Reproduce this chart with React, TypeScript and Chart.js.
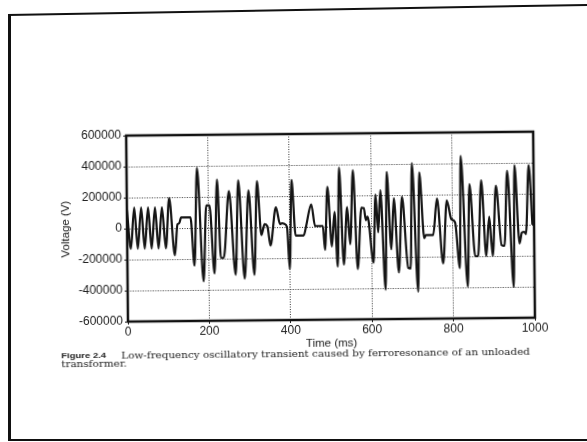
import React, { useEffect, useRef } from "react";
import { Chart, registerables } from "chart.js";

Chart.register(...registerables);

// ---- data ----
const timeMs = [
  0, 9, 18, 26, 35, 43, 52, 60, 69, 77, 86, 95, 104, 117, 124, 128, 133, 156,
  165, 173, 187, 195, 203, 214, 222, 230, 237, 251, 266, 274, 288, 299, 312, 320,
  330, 338, 345, 352, 366, 376, 381, 387, 393, 399, 405, 414, 434, 440, 453, 462,
  481, 486, 493, 503, 510, 517, 522, 532, 541, 548, 556, 566, 576, 582, 587, 591,
  605, 611, 617, 623, 634, 639, 649, 656, 667, 676, 690, 696, 701, 714, 719, 730,
  734, 752, 762, 776, 786, 797, 806, 817, 821, 836, 842, 855, 862, 871, 882, 890,
  898, 907, 920, 927, 935, 949, 953, 964, 970, 976, 980, 988, 996,
];
const voltage = [
  120000, -130000, 135000, -130000, 135000, -130000, 135000, -130000, 135000, -130000, 135000, -130000,
  195000, -175000, 25000, 30000, 68000, 68000,
  -243000, 387000, -345000, 145000, 145000, -295000, 311000, -195000, -195000, 236000, -305000, 305000,
  -330000, 240000, -305000, 298000,
  -50000, 20000, 5000, -118000, 128000, 20000, 25000, 20000, 0, -272000, 305000, -55000, -55000, 5000,
  145000, 5000,
  5000, -150000, 258000, -128000, 95000, -258000, 380000, -245000, 125000, -115000, 362000, -275000,
  120000, 118000, 40000, 62000,
  -235000, 205000, -40000, 232000, -410000, 350000, -150000, 180000, -300000, 188000, -270000, -275000,
  405000, -425000, 345000, -80000,
  -60000, -60000, 175000, -245000, 163000, 40000, 20000, -275000, 448000, -395000, 265000, -200000,
  -200000, 290000, -200000, 55000,
  -200000, 255000, -130000, -135000, 350000, -400000, 385000, -120000, -50000, -45000, -60000, 385000, 0,
];
const xTickValues = [0, 200, 400, 600, 800, 1000];
const yTickValues = [600000, 400000, 200000, 0, -200000, -400000, -600000];
const xTitle = "Time (ms)";
const yTitle = "Voltage (V)";
const captionLabel = "Figure 2.4";
const captionLine1 = "Low-frequency oscillatory transient caused by ferroresonance of an unloaded";
const captionLine2 = "transformer.";

const plotFrame = {
  id: "plotFrame",
  afterDatasetsDraw(chart: any) {
    const { ctx, chartArea } = chart;
    const { left, top, right, bottom } = chartArea;
    ctx.save();
    ctx.strokeStyle = "#111";
    ctx.lineWidth = 2.5;
    ctx.strokeRect(left, top, right - left, bottom - top);
    ctx.restore();
  },
};

const sans = "'Liberation Sans', Arial, Helvetica, sans-serif";

export default function App() {
  const ref = useRef<HTMLCanvasElement | null>(null);

  useEffect(() => {
    if (!ref.current) return;
    const points = timeMs.map((t, i) => ({ x: t, y: voltage[i] }));
    const gridOpts: any = {
      color: "#333",
      lineWidth: 1,
      tickLength: 3,
      tickColor: "#222",
      tickBorderDash: [],
    };
    const chart = new Chart(ref.current, {
      type: "line",
      data: {
        datasets: [
          {
            data: points,
            borderColor: "#151515",
            borderWidth: 2.2,
            pointRadius: 0,
            cubicInterpolationMode: "monotone",
            fill: false,
          },
        ],
      },
      options: {
        animation: false,
        responsive: false,
        devicePixelRatio: 1,
        layout: { padding: { left: 55, top: 134, right: 53, bottom: 87 } },
        plugins: { legend: { display: false }, tooltip: { enabled: false } },
        scales: {
          x: {
            type: "linear",
            min: 0,
            max: 1000,
            afterBuildTicks: (s: any) => {
              s.ticks = xTickValues.map((v) => ({ value: v }));
            },
            afterFit: (s: any) => {
              s.height = 35;
            },
            ticks: {
              callback: (v: any) => String(v),
              font: { family: sans, size: 12 },
              color: "#222",
              padding: 0,
              maxRotation: 0,
            },
            grid: gridOpts,
            border: { display: false, dash: [1, 1.5] },
            title: {
              display: true,
              text: xTitle,
              font: { family: sans, size: 11.5 },
              color: "#1a1a1a",
              padding: { top: 4, bottom: 4 },
            },
          },
          y: {
            type: "linear",
            min: -600000,
            max: 600000,
            afterBuildTicks: (s: any) => {
              s.ticks = yTickValues.map((v) => ({ value: v }));
            },
            afterFit: (s: any) => {
              s.width = 72;
            },
            ticks: {
              callback: (v: any) => String(v),
              font: { family: sans, size: 12 },
              color: "#222",
              padding: 2,
            },
            grid: gridOpts,
            border: { display: false, dash: [1, 1.5] },
            title: {
              display: true,
              text: yTitle,
              font: { family: sans, size: 11.5 },
              color: "#1a1a1a",
              padding: { top: 4, bottom: 4 },
            },
          },
        },
      },
      plugins: [plotFrame],
    } as any);
    return () => chart.destroy();
  }, []);

  const serif = "'DejaVu Serif', serif";

  return (
    <div style={{ position: "relative", width: 587, height: 442, background: "#fff", overflow: "hidden" }}>
      <style>{`body{margin:0;background:#fff}`}</style>
      {/* page frame */}
      <div style={{ position: "absolute", left: 8, top: 14, width: 590, height: 2, background: "#111", transformOrigin: "left center", transform: "rotate(-1deg)" }} />
      <div style={{ position: "absolute", left: 8, top: 14, width: 2.5, height: 427, background: "#111" }} />
      <div style={{ position: "absolute", left: 8, top: 439, width: 579, height: 2, background: "#111" }} />
      <div style={{ position: "absolute", left: 0, top: 0, width: 587, height: 442, transform: "rotate(-0.55deg)", transformOrigin: "50% 50%" }}>
        <canvas ref={ref} width={587} height={442} style={{ position: "absolute", left: 0, top: 0, width: 587, height: 442 }} />
        <div style={{ position: "absolute", left: 60, top: 348, whiteSpace: "nowrap", fontFamily: sans, fontWeight: 700, fontSize: 9.5, color: "#222", lineHeight: "12px", transform: "scaleY(0.8)", transformOrigin: "left center" }}>
          {captionLabel}
        </div>
        <div style={{ position: "absolute", left: 120, top: 348, whiteSpace: "nowrap", fontFamily: serif, fontSize: 10.4, color: "#222", lineHeight: "12px", transform: "scaleY(0.8)", transformOrigin: "left center" }}>
          {captionLine1}
        </div>
        <div style={{ position: "absolute", left: 60, top: 356, whiteSpace: "nowrap", fontFamily: serif, fontSize: 10.4, color: "#222", lineHeight: "12px", transform: "scaleY(0.8)", transformOrigin: "left center" }}>
          {captionLine2}
        </div>
      </div>
    </div>
  );
}
